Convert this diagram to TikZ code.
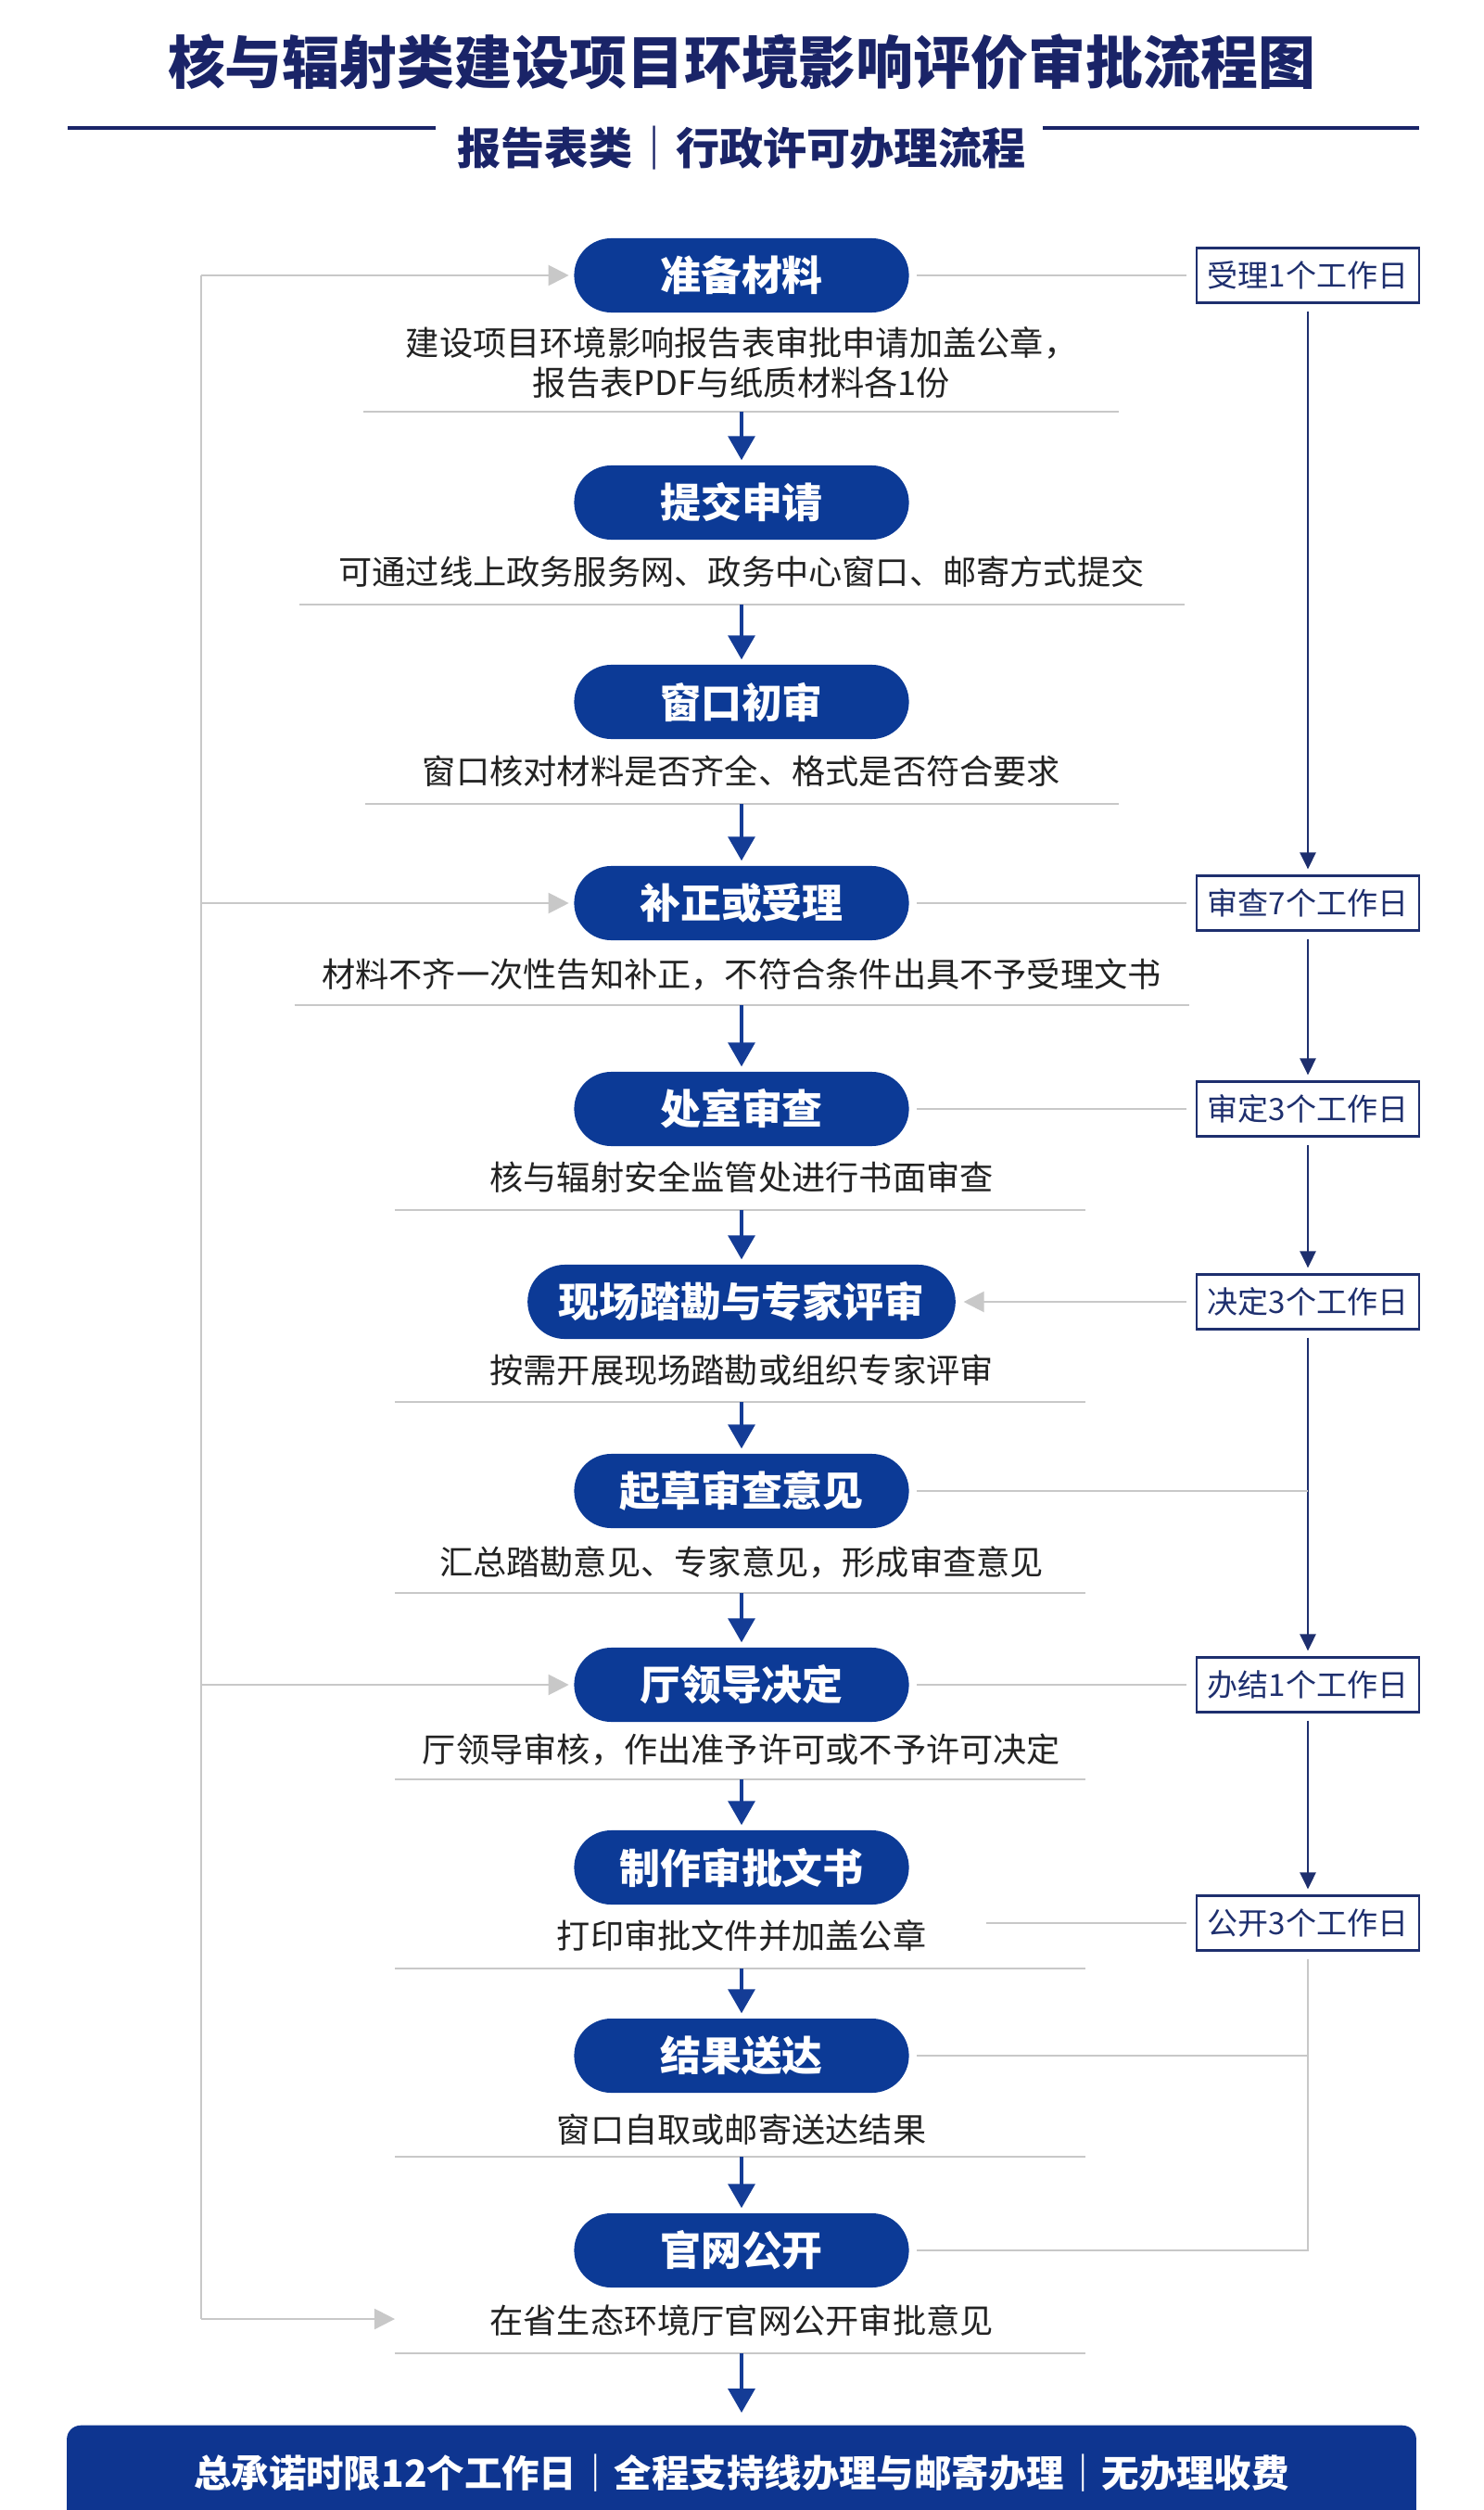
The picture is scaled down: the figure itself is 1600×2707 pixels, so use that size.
\documentclass[tikz,border=0pt]{standalone}
\usepackage{fontspec}
\setmainfont{Noto Sans CJK SC}
\usepackage{xcolor}
\usepackage{tikz}
\usetikzlibrary{positioning}
\usetikzlibrary{calc,arrows.meta}

\definecolor{titlenavy}{HTML}{1A2468}
\definecolor{pillblue}{HTML}{0C3A96}
\definecolor{flowblue}{HTML}{143C96}
\definecolor{boxnavy}{HTML}{1E2F6E}
\definecolor{linegray}{HTML}{C8C8C8}
\definecolor{textdark}{HTML}{222222}
\definecolor{barblue}{HTML}{0E3590}

\begin{document}
\begin{tikzpicture}[x=0.01cm, y=-0.01cm,
  stepbox/.style={rectangle, rounded corners=0.4cm, fill=pillblue, text=white,
    font=\fontsize{12.5}{14}\selectfont\bfseries, minimum width=3.61cm,
    minimum height=0.8cm, inner xsep=0.33cm},
  desc/.style={text=textdark, font=\fontsize{10.3}{12.3}\selectfont, align=center},
  daybox/.style={draw=boxnavy, line width=0.6pt, text=boxnavy,
    font=\fontsize{9.4}{11}\selectfont, minimum width=2.38cm, minimum height=0.59cm},
  sepline/.style={linegray, line width=0.55pt},
  flow/.style={-{Triangle[length=0.26cm,width=0.29cm]}, flowblue, line width=0.95pt,
    shorten >=0.05cm},
  grayline/.style={linegray, line width=0.6pt},
  link/.style={grayline, shorten <=0.08cm, shorten >=0.1cm},
  grayarrow/.style={-{Triangle[length=0.22cm,width=0.22cm]}, linegray,
    line width=0.6pt, shorten >=0.05cm},
  dayarrow/.style={-{Triangle[length=0.18cm,width=0.17cm]}, boxnavy,
    line width=0.7pt, shorten <=0.08cm, shorten >=0.06cm}]

  \useasboundingbox (0,0) rectangle (1600,2707);

  % heading
  \node[text=titlenavy, font=\fontsize{17.6}{20}\selectfont\bfseries] (title) at (800,67)
    {核与辐射类建设项目环境影响评价审批流程图};
  \node[text=titlenavy, font=\fontsize{13.4}{15}\selectfont\bfseries] (sub) at (800,160)
    {报告表类｜行政许可办理流程};
  \draw[titlenavy, line width=1.3pt] (73,138) -- (470,138);
  \draw[titlenavy, line width=1.3pt] (1125,138) -- (1531,138);

  % steps
  \node[stepbox] (s1) at (800,297) {准备材料};
  \node[stepbox] (s2) at (800,542) {提交申请};
  \node[stepbox] (s3) at (800,757) {窗口初审};
  \node[stepbox] (s4) at (800,974) {补正或受理};
  \node[stepbox] (s5) at (800,1196) {处室审查};
  \node[stepbox] (s6) at (800,1404) {现场踏勘与专家评审};
  \node[stepbox] (s7) at (800,1608) {起草审查意见};
  \node[stepbox] (s8) at (800,1817) {厅领导决定};
  \node[stepbox] (s9) at (800,2014) {制作审批文书};
  \node[stepbox] (s10) at (800,2217) {结果送达};
  \node[stepbox] (s11) at (800,2427) {官网公开};

  \node[desc] (d1) at (800,391) {建设项目环境影响报告表审批申请加盖公章，\\报告表PDF与纸质材料各1份};
  \node[desc] (d2) at (800,617) {可通过线上政务服务网、政务中心窗口、邮寄方式提交};
  \node[desc] (d3) at (800,832) {窗口核对材料是否齐全、格式是否符合要求};
  \node[desc] (d4) at (800,1051) {材料不齐一次性告知补正，不符合条件出具不予受理文书};
  \node[desc] (d5) at (800,1270) {核与辐射安全监管处进行书面审查};
  \node[desc] (d6) at (800,1478) {按需开展现场踏勘或组织专家评审};
  \node[desc] (d7) at (800,1685) {汇总踏勘意见、专家意见，形成审查意见};
  \node[desc] (d8) at (800,1887) {厅领导审核，作出准予许可或不予许可决定};
  \node[desc] (d9) at (800,2088) {打印审批文件并加盖公章};
  \node[desc] (d10) at (800,2297) {窗口自取或邮寄送达结果};
  \node[desc] (d11) at (800,2503) {在省生态环境厅官网公开审批意见};

  % separators
  \coordinate (c1) at (800,444);
  \coordinate (c2) at (800,652);
  \coordinate (c3) at (800,867);
  \coordinate (c4) at (800,1084);
  \coordinate (c5) at (800,1305);
  \coordinate (c6) at (800,1512);
  \coordinate (c7) at (800,1718);
  \coordinate (c8) at (800,1919);
  \coordinate (c9) at (800,2123);
  \coordinate (c10) at (800,2326);
  \coordinate (c11) at (800,2538);
  \draw[sepline] ([xshift=-4.08cm]c1) -- ([xshift=4.07cm]c1);
  \draw[sepline] ([xshift=-4.77cm]c2) -- ([xshift=4.78cm]c2);
  \draw[sepline] ([xshift=-4.06cm]c3) -- ([xshift=4.07cm]c3);
  \draw[sepline] ([xshift=-4.82cm]c4) -- ([xshift=4.83cm]c4);
  \draw[sepline] ([xshift=-3.74cm]c5) -- ([xshift=3.71cm]c5);
  \draw[sepline] ([xshift=-3.74cm]c6) -- ([xshift=3.71cm]c6);
  \draw[sepline] ([xshift=-3.74cm]c7) -- ([xshift=3.71cm]c7);
  \draw[sepline] ([xshift=-3.74cm]c8) -- ([xshift=3.71cm]c8);
  \draw[sepline] ([xshift=-3.74cm]c9) -- ([xshift=3.71cm]c9);
  \draw[sepline] ([xshift=-3.74cm]c10) -- ([xshift=3.71cm]c10);
  \draw[sepline] ([xshift=-3.74cm]c11) -- ([xshift=3.71cm]c11);

  \draw[flow] (c1) -- (s2);
  \draw[flow] (c2) -- (s3);
  \draw[flow] (c3) -- (s4);
  \draw[flow] (c4) -- (s5);
  \draw[flow] (c5) -- (s6);
  \draw[flow] (c6) -- (s7);
  \draw[flow] (c7) -- (s8);
  \draw[flow] (c8) -- (s9);
  \draw[flow] (c9) -- (s10);
  \draw[flow] (c10) -- (s11);

  % bottom bar
  \node[fill=barblue, rounded corners=0.15cm, minimum width=14.55cm, minimum height=1.4cm,
    anchor=north] (bar) at (800,2615) {};
  \node[text=white, font=\fontsize{11.5}{13}\selectfont\bfseries] (note) at (800,2667)
    {总承诺时限12个工作日｜全程支持线办理与邮寄办理｜无办理收费};
  \draw[flow, shorten >=0.13cm] (c11) -- (bar);

  % time limits
  \node[daybox] (t1) at (1411,297) {受理1个工作日};
  \node[daybox] (t2) at (1411,974) {审查7个工作日};
  \node[daybox] (t3) at (1411,1196) {审定3个工作日};
  \node[daybox] (t4) at (1411,1404) {决定3个工作日};
  \node[daybox] (t5) at (1411,1817) {办结1个工作日};
  \node[daybox] (t6) at (1411,2074) {公开3个工作日};

  \draw[dayarrow] (t1) -- (t2);
  \draw[dayarrow] (t2) -- (t3);
  \draw[dayarrow] (t3) -- (t4);
  \draw[dayarrow] (t4) -- (t5);
  \draw[dayarrow] (t5) -- (t6);

  \draw[link] (s1) -- (t1);
  \draw[link] (s4) -- (t2);
  \draw[link] (s5) -- (t3);
  \draw[grayarrow, shorten <=0.1cm, shorten >=0.08cm] (t4) -- (s6);
  \draw[grayline, shorten <=0.08cm] (s7) -- (s7 -| t4);
  \draw[link] (s8) -- (t5);
  \coordinate (g9) at (1064,2074);
  \draw[grayline, shorten <=0.1cm] (t6) -- (g9);
  \draw[grayline, shorten <=0.08cm] (s10) -- (s10 -| t6);
  \draw[grayline, shorten <=0.08cm, shorten >=0.08cm] (t6) |- (s11);

  % loop back on the left
  \coordinate (lt) at (217,297);
  \coordinate (lb) at (217,2501);
  \coordinate (e11) at (426,2501);
  \draw[grayline] (lt) -- (lb);
  \draw[grayarrow] (lt) -- (s1);
  \draw[grayarrow] (lt |- s4) -- (s4);
  \draw[grayarrow] (lt |- s8) -- (s8);
  \draw[grayarrow, shorten >=0pt] (lb) -- (e11);
  %\draw[grayline] (lb) -- (d11);
\end{tikzpicture}
\end{document}
